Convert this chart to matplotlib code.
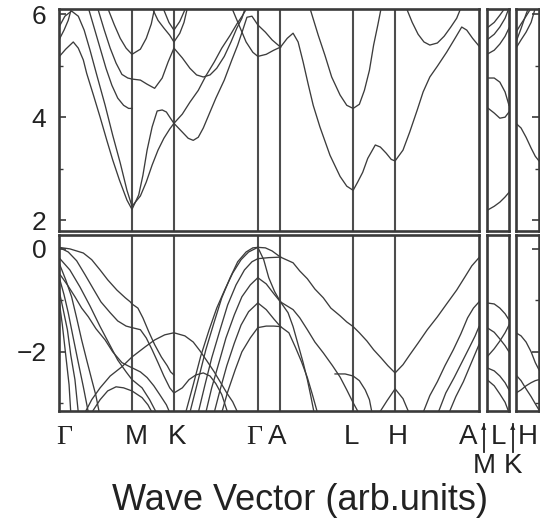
import matplotlib.pyplot as plt
from matplotlib.ticker import MultipleLocator

plt.rcParams['font.family'] = ['Liberation Sans', 'DejaVu Sans']

# high-symmetry points along Γ-M-K-Γ-A-L-H-A, in units of |ΓK|
sym_k = [0.0, 0.866, 1.366, 2.366, 2.64, 3.506, 4.006, 5.006]
seg_len = 0.274  # length of the short M-L and K-H segments

# conduction bands on the main path (k, E in eV)
cb_main = [
    ([0.00, 0.08, 0.17, 0.23, 0.29, 0.33, 0.41, 0.49, 0.57, 0.64, 0.72, 0.81, 0.87, 0.95, 1.00, 1.05, 1.11, 1.17, 1.23, 1.28,
      1.32, 1.37, 1.47, 1.54, 1.60, 1.66, 1.72, 1.80, 1.87, 1.97, 2.06, 2.13, 2.19, 2.24, 2.30, 2.37, 2.46, 2.54, 2.64],
     [5.17, 5.32, 5.46, 5.34, 5.11, 4.85, 4.43, 4.00, 3.55, 3.17, 2.78, 2.39, 2.21, 2.49, 2.87, 3.36, 3.81, 4.12, 4.14, 4.10,
      4.00, 3.88, 3.71, 3.59, 3.55, 3.61, 3.79, 4.10, 4.37, 4.72, 5.11, 5.40, 5.69, 5.94, 5.96, 5.79, 5.65, 5.50, 5.36]),
    ([2.64, 2.72, 2.79, 2.85, 2.91, 2.97, 3.03, 3.11, 3.23, 3.35, 3.43, 3.506, 3.56, 3.62, 3.68, 3.77, 3.83, 3.90, 3.96, 4.006,
      4.10, 4.18, 4.27, 4.34, 4.42, 4.51, 4.62, 4.72, 4.80, 4.86, 4.93, 5.006],
     [5.36, 5.53, 5.63, 5.46, 5.07, 4.64, 4.23, 3.81, 3.26, 2.85, 2.66, 2.58, 2.74, 2.93, 3.20, 3.46, 3.42, 3.30, 3.18, 3.15,
      3.36, 3.71, 4.14, 4.49, 4.78, 4.99, 5.26, 5.53, 5.75, 5.69, 5.53, 5.38]),
    ([0.00, 0.07, 0.15, 0.23, 0.30, 0.37, 0.45, 0.55, 0.64, 0.73, 0.81, 0.87, 0.97, 1.04, 1.11, 1.18, 1.25, 1.32, 1.37,
      1.47, 1.56, 1.66, 1.75, 1.85, 1.94, 2.04, 2.12, 2.19, 2.24],
     [5.75, 5.96, 6.06, 5.96, 5.69, 5.30, 4.82, 4.23, 3.65, 3.11, 2.58, 2.27, 2.47, 2.74, 3.07, 3.36, 3.59, 3.77, 3.88,
      4.06, 4.29, 4.52, 4.80, 5.07, 5.34, 5.59, 5.81, 5.98, 6.12]),
    ([0.35, 0.42, 0.49, 0.56, 0.63, 0.70, 0.77, 0.83, 0.87],
     [6.12, 5.73, 5.34, 4.95, 4.62, 4.37, 4.23, 4.17, 4.17]),
    ([0.46, 0.54, 0.61, 0.68, 0.75, 0.82, 0.87, 0.97, 1.05, 1.14, 1.23, 1.30, 1.37,
      1.47, 1.56, 1.64, 1.72, 1.80, 1.88, 1.97, 2.05, 2.12, 2.18, 2.22],
     [6.12, 5.69, 5.34, 5.05, 4.83, 4.76, 4.74, 4.72, 4.64, 4.56, 4.76, 5.07, 5.34,
      5.15, 4.95, 4.82, 4.78, 4.82, 4.95, 5.18, 5.46, 5.73, 5.92, 6.12]),
    ([0.58, 0.66, 0.73, 0.80, 0.87, 0.97, 1.04, 1.10, 1.14],
     [6.12, 5.79, 5.53, 5.34, 5.22, 5.32, 5.53, 5.81, 6.12]),
    ([1.11, 1.18, 1.25, 1.32, 1.37, 1.44, 1.49, 1.53],
     [6.12, 5.88, 5.73, 5.59, 5.46, 5.63, 5.84, 6.12]),
    ([1.24, 1.31, 1.37, 1.44, 1.51],
     [6.12, 5.84, 5.69, 5.86, 6.12]),
    ([2.06, 2.15, 2.23, 2.31, 2.37, 2.47, 2.56, 2.64],
     [6.12, 5.77, 5.46, 5.26, 5.18, 5.22, 5.30, 5.36]),
    ([0.00, 0.06, 0.11, 0.15],
     [5.50, 5.69, 5.88, 6.12]),
    ([2.99, 3.09, 3.17, 3.25, 3.35, 3.43, 3.506, 3.58, 3.64, 3.70, 3.75, 3.80, 3.84],
     [6.12, 5.59, 5.20, 4.78, 4.43, 4.23, 4.17, 4.25, 4.52, 4.91, 5.40, 5.79, 6.12]),
    ([4.14, 4.21, 4.28, 4.35, 4.42, 4.51, 4.59, 4.67, 4.74, 4.79],
     [6.12, 5.84, 5.61, 5.46, 5.40, 5.44, 5.57, 5.75, 5.92, 6.12]),
]

# valence bands on the main path
vb_main = [
    ([0.00, 0.13, 0.29, 0.39, 0.49, 0.58, 0.69, 0.79, 0.85, 0.87, 0.94, 1.00, 1.07, 1.14, 1.22, 1.29, 1.33, 1.37],
     [0.03, 0.00, -0.08, -0.21, -0.41, -0.60, -0.80, -0.95, -1.03, -1.07, -1.15, -1.34, -1.61, -1.86, -2.10, -2.27, -2.39, -2.45]),
    ([0.00, 0.11, 0.21, 0.31, 0.41, 0.50, 0.61, 0.70, 0.80, 0.87, 0.97, 1.04, 1.11, 1.18, 1.25, 1.32, 1.37,
      1.47, 1.55, 1.63, 1.72, 1.80, 1.87, 1.94, 2.01],
     [0.03, -0.06, -0.23, -0.50, -0.78, -1.03, -1.24, -1.40, -1.50, -1.53, -1.57, -1.73, -1.96, -2.21, -2.47, -2.70, -2.80,
      -2.70, -2.54, -2.45, -2.41, -2.47, -2.62, -2.83, -3.18]),
    ([0.31, 0.39, 0.49, 0.61, 0.75, 0.87, 1.03, 1.14, 1.26, 1.37, 1.50, 1.60, 1.68, 1.76, 1.85, 1.92, 2.00, 2.07, 2.13],
     [-3.18, -2.93, -2.70, -2.47, -2.29, -2.10, -1.90, -1.77, -1.67, -1.63, -1.69, -1.81, -1.98, -2.17, -2.39, -2.58, -2.80, -2.97, -3.18]),
    ([0.00, 0.10, 0.19, 0.27, 0.35, 0.44, 0.55, 0.64, 0.75, 0.82, 0.87, 0.97, 1.05, 1.13, 1.20, 1.28, 1.32],
     [-0.47, -0.70, -0.93, -1.15, -1.32, -1.55, -1.77, -2.00, -2.21, -2.27, -2.31, -2.39, -2.50, -2.66, -2.83, -3.03, -3.18]),
    ([0.00, 0.08, 0.15, 0.21, 0.27, 0.33, 0.39, 0.44, 0.48],
     [-0.27, -0.60, -0.93, -1.34, -1.77, -2.16, -2.54, -2.85, -3.18]),
    ([0.00, 0.06, 0.11, 0.17, 0.23, 0.29, 0.35],
     [-0.54, -0.89, -1.24, -1.73, -2.21, -2.68, -3.18]),
    ([0.00, 0.05, 0.10, 0.14, 0.19, 0.23],
     [-0.80, -1.18, -1.57, -2.06, -2.54, -3.18]),
    ([0.00, 0.04, 0.08, 0.12, 0.14],
     [-0.99, -1.48, -2.06, -2.64, -3.18]),
    ([0.00, 0.13, 0.25, 0.37, 0.49, 0.61, 0.70, 0.80, 0.87, 0.99, 1.08, 1.16],
     [-0.17, -0.41, -0.74, -1.11, -1.51, -1.88, -2.16, -2.39, -2.54, -2.70, -2.93, -3.18]),
    ([0.39, 0.49, 0.58, 0.68, 0.77, 0.87, 0.99, 1.06, 1.11],
     [-3.18, -2.93, -2.76, -2.68, -2.70, -2.76, -2.89, -3.03, -3.18]),
    # K-Γ bundle
    ([1.56, 1.66, 1.75, 1.85, 1.94, 2.04, 2.13, 2.23, 2.31, 2.37],
     [-3.18, -2.54, -1.96, -1.42, -0.95, -0.56, -0.25, -0.06, 0.02, 0.03]),
    ([1.66, 1.74, 1.82, 1.92, 2.01, 2.11, 2.21, 2.30, 2.37],
     [-3.18, -2.64, -2.12, -1.57, -1.09, -0.70, -0.41, -0.25, -0.19]),
    ([1.75, 1.82, 1.91, 1.99, 2.09, 2.18, 2.28, 2.37],
     [-3.18, -2.70, -2.19, -1.73, -1.28, -0.93, -0.70, -0.56]),
    ([1.85, 1.92, 2.00, 2.09, 2.17, 2.26, 2.37],
     [-3.18, -2.74, -2.27, -1.83, -1.48, -1.22, -1.05]),
    ([1.94, 2.01, 2.10, 2.18, 2.28, 2.37],
     [-3.18, -2.78, -2.35, -2.00, -1.73, -1.53]),
    ([1.51, 1.60, 1.69, 1.79, 1.88, 1.98, 2.07, 2.17, 2.26, 2.37],
     [-3.18, -2.64, -2.08, -1.57, -1.15, -0.78, -0.47, -0.21, -0.06, 0.03]),
    # Γ-A
    ([2.37, 2.46, 2.54, 2.64], [0.03, 0.02, -0.04, -0.16]),
    ([2.37, 2.44, 2.50, 2.57, 2.64], [0.03, -0.21, -0.56, -0.83, -1.03]),
    ([2.37, 2.50, 2.64], [-0.19, -0.17, -0.16]),
    ([2.37, 2.47, 2.56, 2.64], [-0.56, -0.68, -0.87, -1.03]),
    ([2.37, 2.47, 2.56, 2.64], [-1.05, -1.18, -1.36, -1.51]),
    ([2.37, 2.47, 2.56, 2.64], [-1.53, -1.50, -1.50, -1.51]),
    # A-L-H-A
    ([2.64, 2.79, 2.87, 2.96, 3.05, 3.15, 3.24, 3.35, 3.43, 3.506, 3.58, 3.67, 3.75, 3.84, 3.92, 4.006, 4.10, 4.18, 4.28, 4.39,
      4.51, 4.62, 4.74, 4.84, 4.92, 5.006],
     [-0.16, -0.27, -0.43, -0.58, -0.78, -0.95, -1.15, -1.30, -1.42, -1.51, -1.63, -1.79, -1.96, -2.12, -2.27, -2.41, -2.25, -2.06, -1.83, -1.57,
      -1.32, -1.07, -0.80, -0.54, -0.33, -0.17]),
    ([2.64, 2.79, 2.87, 2.96, 3.05, 3.15, 3.26, 3.35, 3.43, 3.506, 3.57],
     [-1.03, -1.18, -1.34, -1.57, -1.81, -2.02, -2.27, -2.49, -2.74, -2.99, -3.18]),
    ([2.64, 2.73, 2.79, 2.85, 2.91, 2.96, 3.00, 3.04],
     [-1.03, -1.24, -1.51, -1.86, -2.21, -2.54, -2.85, -3.18]),
    ([2.64, 2.74, 2.82, 2.89, 2.96, 3.02, 3.08],
     [-1.51, -1.63, -1.92, -2.19, -2.50, -2.83, -3.18]),
    ([3.29, 3.41, 3.506, 3.58, 3.65, 3.70, 3.73],
     [-2.43, -2.43, -2.47, -2.56, -2.74, -2.93, -3.18]),
    ([3.82, 3.91, 4.006, 4.10, 4.17],
     [-3.18, -2.95, -2.72, -2.91, -3.18]),
    ([4.34, 4.42, 4.51, 4.60, 4.70, 4.79, 4.87, 4.94, 5.006],
     [-3.18, -2.85, -2.58, -2.27, -1.96, -1.65, -1.34, -1.15, -1.03]),
    ([4.52, 4.61, 4.71, 4.80, 4.89, 4.96, 5.006],
     [-3.18, -2.80, -2.50, -2.21, -1.92, -1.69, -1.51]),
    ([4.65, 4.73, 4.82, 4.90, 4.97, 5.006],
     [-3.18, -2.87, -2.58, -2.27, -2.00, -1.86]),
]

# M-L segment
k_ml = [0.0, 0.09, 0.16, 0.225, 0.274]
cb_ml = [
    ([4.76, 4.76, 4.68, 4.49, 4.23]),
    ([4.19, 4.08, 3.98, 4.00, 4.10]),
    ([2.19, 2.27, 2.35, 2.45, 2.54]),
    ([5.50, 5.61, 5.75, 5.92, 6.12]),
    ([5.22, 5.30, 5.42, 5.57, 5.73]),
    ([5.73, 5.84, 5.98, 6.12, 6.30]),
]
vb_ml = [
    ([-1.05, -1.07, -1.15, -1.26, -1.38]),
    ([-1.53, -1.62, -1.75, -1.88, -2.00]),
    ([-2.10, -1.94, -1.79, -1.63, -1.48]),
    ([-2.31, -2.37, -2.47, -2.60, -2.74]),
    ([-2.54, -2.66, -2.82, -2.98, -3.18]),
]

# K-H segment
k_kh = [0.0, 0.06, 0.12, 0.18, 0.23, 0.274]
cb_kh = [
    ([3.88, 3.79, 3.61, 3.40, 3.24, 3.15]),
    ([5.34, 5.50, 5.65, 5.84, 6.12, 6.30]),
    ([5.65, 5.81, 5.96, 6.12, 6.30, 6.45]),
    ([5.46, 5.72, 6.00, 6.25, 6.45, 6.60]),
]
vb_kh = [
    ([-1.63, -1.69, -1.81, -2.00, -2.21, -2.35]),
    ([-2.80, -2.74, -2.66, -2.60, -2.56, -2.54]),
    ([-2.45, -2.56, -2.72, -2.87, -3.01, -3.13]),
]

up_lim = (1.79, 6.10)
lo_lim = (-3.15, 0.27)

band_kw = dict(color='#3c3c3c', lw=0.95)
sym_kw = dict(color='#4d4d4d', lw=1.5)
frame_color = '#3a3a3a'
text_color = '#222222'

W, H = 540, 525
fig = plt.figure(figsize=(W / 100, H / 100), dpi=100)


def box(x0, x1, y0, y1):
    return [x0 / W, 1 - y1 / H, (x1 - x0) / W, (y1 - y0) / H]


cols = [(59, 479, (0, sym_k[-1])), (487, 509, (0, seg_len)), (516, 539, (0, seg_len))]
rows = [(9, 231, up_lim), (235, 411, lo_lim)]

axes = {}
for ci, (x0, x1, xl) in enumerate(cols):
    for ri, (y0, y1, yl) in enumerate(rows):
        ax = fig.add_axes(box(x0, x1, y0, y1))
        ax.set_xlim(*xl)
        ax.set_ylim(*yl)
        ax.set_xticks([])
        for sp in ax.spines.values():
            sp.set_linewidth(1.9)
            sp.set_color(frame_color)
        ax.yaxis.set_major_locator(MultipleLocator(2))
        ax.yaxis.set_minor_locator(MultipleLocator(1))
        ax.tick_params(axis='y', which='both', direction='in', color=frame_color,
                       left=False, right=False, labelleft=False)
        ax.tick_params(axis='y', which='major', length=5, width=1.2)
        ax.tick_params(axis='y', which='minor', length=3, width=1.0)
        axes[(ci, ri)] = ax

# main path
for ri, bands in enumerate([cb_main, vb_main]):
    ax = axes[(0, ri)]
    for k in sym_k[1:-1]:
        ax.axvline(k, **sym_kw)
    for k, e in bands:
        ax.plot(k, e, **band_kw)
    ax.tick_params(axis='y', which='both', left=True, labelleft=True,
                   labelsize=19, pad=9, labelcolor=text_color)

# M-L and K-H segments
for ri, bands in enumerate([cb_ml, vb_ml]):
    for e in bands:
        axes[(1, ri)].plot(k_ml, e, **band_kw)
for ri, bands in enumerate([cb_kh, vb_kh]):
    ax = axes[(2, ri)]
    for e in bands:
        ax.plot(k_kh, e, **band_kw)
    ax.tick_params(axis='y', which='both', right=True)

# k-point labels under the axes
txt = dict(fontsize=20, color=text_color, ha='center', va='center')
serif = ['Liberation Serif', 'DejaVu Serif']
row1 = 1 - 437 / H
row2 = 1 - 466 / H
labels = [(64, 'Γ', True), (136, 'M', False), (177, 'K', False), (254, 'Γ', True), (277, 'A', False),
          (351, 'L', False), (398, 'H', False), (468, 'A', False), (498, 'L', False), (528, 'H', False)]
for xp, s, is_greek in labels:
    if is_greek:
        fig.text(xp / W, row1, s, family=serif, **txt)
    else:
        fig.text(xp / W, row1, s, **txt)
for xp, s in [(484, 'M'), (513, 'K')]:
    fig.text(xp / W, row2, s, **txt)
    fig.add_artist(plt.Line2D([xp / W, xp / W], [1 - 452 / H, 1 - 424 / H], color=text_color, lw=1.3))
    fig.text(xp / W, 1 - 427 / H, '▲', fontsize=5, color=text_color, ha='center', va='center',
             family='DejaVu Sans')

fig.text(300 / W, 1 - 500 / H, 'Wave Vector (arb.units)', fontsize=26, color=text_color,
         ha='center', va='center')

fig.savefig('out.png', dpi=100, facecolor='white')
